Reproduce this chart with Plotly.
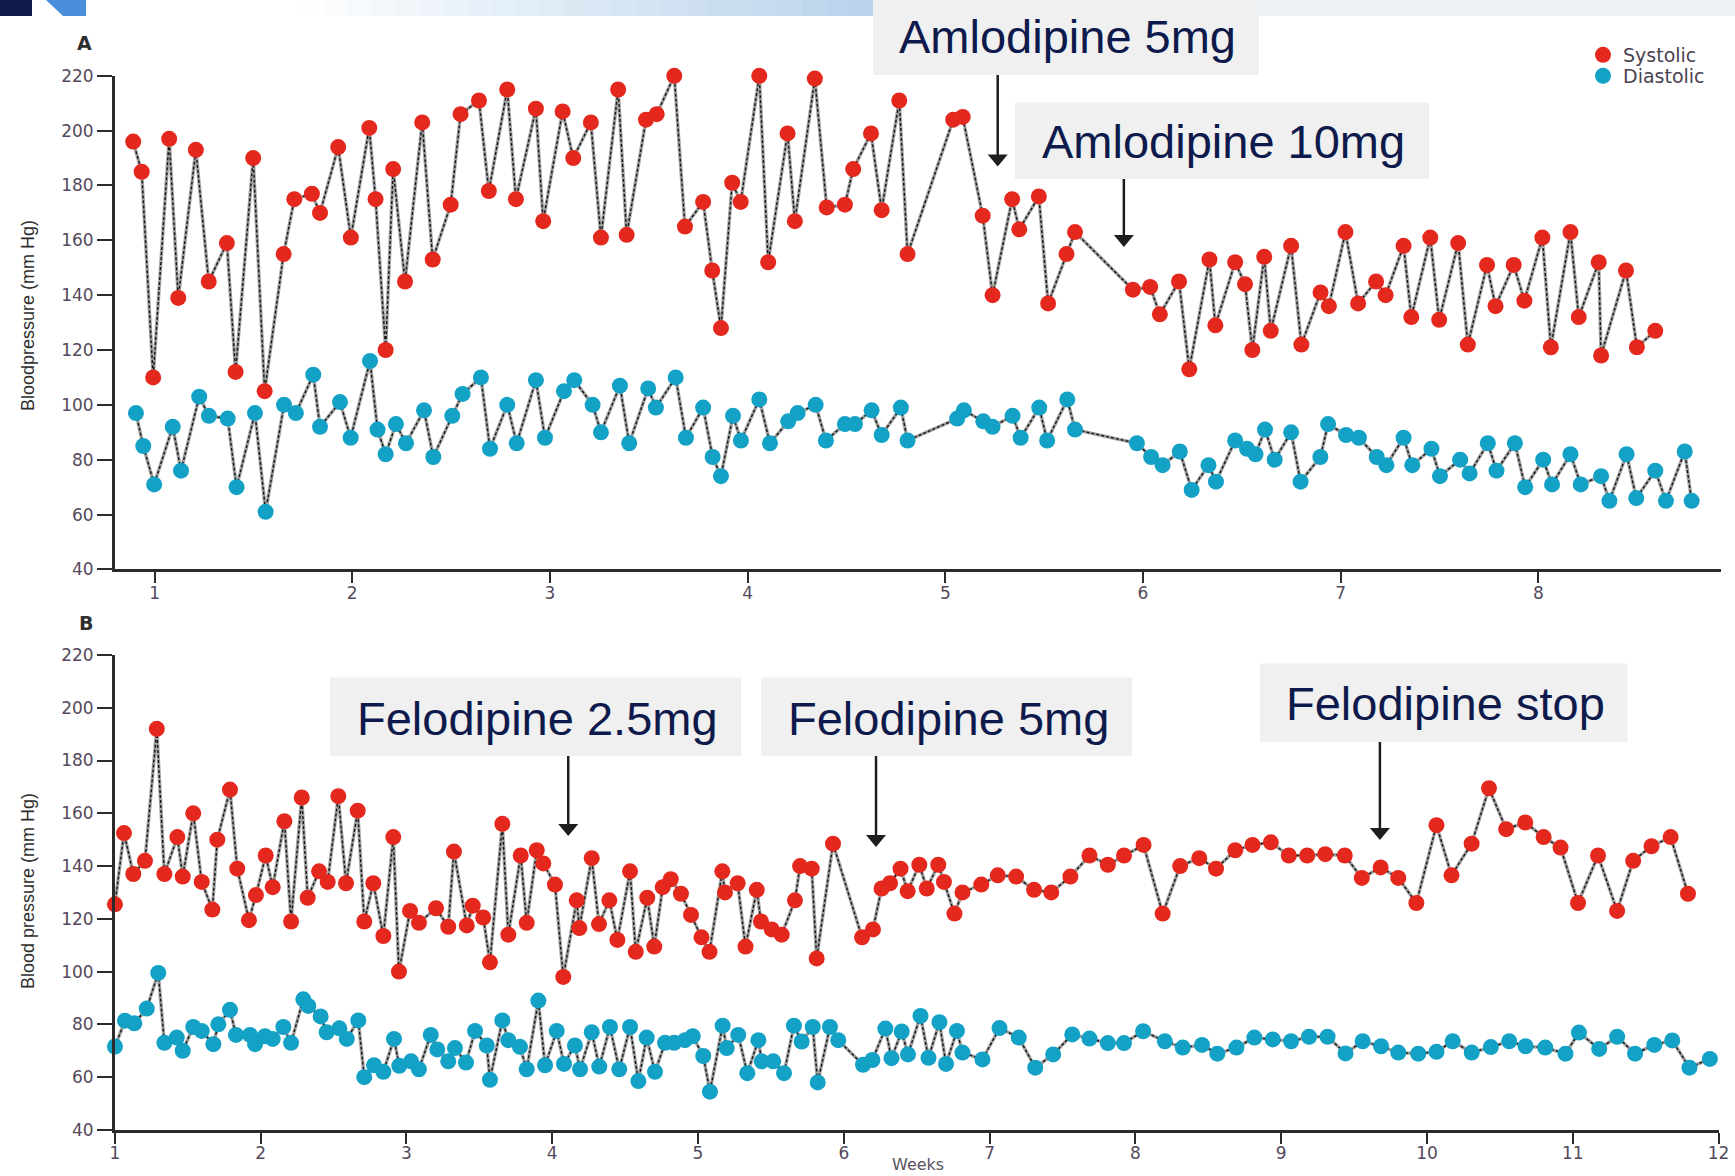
import plotly.graph_objects as go

# ---------------- data: home blood pressure, weeks of follow-up ----------------
# Panel A (amlodipine)
a_sys_week = [0.892, 0.935, 0.993, 1.074, 1.120, 1.209, 1.274, 1.366, 1.410, 1.499,
              1.557, 1.653, 1.707, 1.796, 1.837, 1.929, 1.993, 2.086, 2.118, 2.169,
              2.207, 2.267, 2.354, 2.407, 2.498, 2.548, 2.641, 2.691, 2.784, 2.828,
              2.929, 2.966, 3.064, 3.118, 3.207, 3.258, 3.345, 3.388, 3.486, 3.540,
              3.629, 3.683, 3.775, 3.821, 3.865, 3.922, 3.965, 4.059, 4.104, 4.202,
              4.239, 4.340, 4.400, 4.492, 4.534, 4.624, 4.678, 4.767, 4.809, 5.040,
              5.088, 5.189, 5.239, 5.338, 5.374, 5.473, 5.520, 5.613, 5.656, 5.949,
              6.036, 6.085, 6.182, 6.234, 6.336, 6.366, 6.466, 6.516, 6.553, 6.613,
              6.646, 6.749, 6.801, 6.898, 6.940, 7.024, 7.088, 7.179, 7.227, 7.318,
              7.357, 7.453, 7.498, 7.594, 7.643, 7.740, 7.783, 7.875, 7.929, 8.020,
              8.063, 8.162, 8.204, 8.305, 8.317, 8.443, 8.498, 8.591]
a_sys = [196, 185, 110, 197, 139, 193, 145, 159, 112, 190,
         105, 155, 175, 177, 170, 194, 161, 201, 175, 120,
         186, 145, 203, 153, 173, 206, 211, 178, 215, 175,
         208, 167, 207, 190, 203, 161, 215, 162, 204, 206,
         220, 165, 174, 149, 128, 181, 174, 220, 152, 199,
         167, 219, 172, 173, 186, 199, 171, 211, 155, 204,
         205, 169, 140, 175, 164, 176, 137, 155, 163, 142,
         143, 133, 145, 113, 153, 129, 152, 144, 120, 154,
         127, 158, 122, 141, 136, 163, 137, 145, 140, 158,
         132, 161, 131, 159, 122, 151, 136, 151, 138, 161,
         121, 163, 132, 152, 118, 149, 121, 127]

a_dia_week = [0.906, 0.943, 0.998, 1.092, 1.134, 1.226, 1.275, 1.370, 1.415, 1.508,
              1.562, 1.655, 1.715, 1.803, 1.837, 1.938, 1.992, 2.090, 2.128, 2.169,
              2.221, 2.272, 2.363, 2.410, 2.506, 2.558, 2.651, 2.697, 2.784, 2.832,
              2.929, 2.975, 3.071, 3.123, 3.216, 3.258, 3.354, 3.401, 3.497, 3.536,
              3.636, 3.688, 3.775, 3.823, 3.865, 3.926, 3.966, 4.059, 4.113, 4.205,
              4.253, 4.344, 4.396, 4.492, 4.543, 4.627, 4.678, 4.775, 4.809, 5.060,
              5.094, 5.192, 5.239, 5.340, 5.381, 5.475, 5.515, 5.617, 5.656, 5.969,
              6.041, 6.099, 6.186, 6.246, 6.331, 6.369, 6.466, 6.526, 6.569, 6.617,
              6.666, 6.749, 6.797, 6.897, 6.936, 7.027, 7.092, 7.182, 7.231, 7.318,
              7.362, 7.459, 7.502, 7.604, 7.652, 7.744, 7.788, 7.881, 7.933, 8.024,
              8.069, 8.162, 8.214, 8.317, 8.359, 8.446, 8.495, 8.591, 8.645, 8.740,
              8.775]
a_dia = [97, 85, 71, 92, 76, 103, 96, 95, 70, 97,
         61, 100, 97, 111, 92, 101, 88, 116, 91, 82,
         93, 86, 98, 81, 96, 104, 110, 84, 100, 86,
         109, 88, 105, 109, 100, 90, 107, 86, 106, 99,
         110, 88, 99, 81, 74, 96, 87, 102, 86, 94,
         97, 100, 87, 93, 93, 98, 89, 99, 87, 95,
         98, 94, 92, 96, 88, 99, 87, 102, 91, 86,
         81, 78, 83, 69, 78, 72, 87, 84, 82, 91,
         80, 90, 72, 81, 93, 89, 88, 81, 78, 88,
         78, 84, 74, 80, 75, 86, 76, 86, 70, 80,
         71, 82, 71, 74, 65, 82, 66, 76, 65, 83,
         65]

# Panel B (felodipine)
b_sys_week = [1.001, 1.063, 1.127, 1.207, 1.288, 1.340, 1.429, 1.466, 1.538, 1.596,
              1.669, 1.703, 1.790, 1.840, 1.920, 1.968, 2.035, 2.083, 2.163, 2.209,
              2.282, 2.323, 2.401, 2.460, 2.533, 2.586, 2.666, 2.711, 2.773, 2.842,
              2.910, 2.949, 3.025, 3.086, 3.203, 3.287, 3.326, 3.414, 3.455, 3.527,
              3.573, 3.658, 3.699, 3.784, 3.825, 3.894, 3.939, 4.019, 4.076, 4.168,
              4.186, 4.271, 4.321, 4.392, 4.447, 4.534, 4.573, 4.652, 4.700, 4.758,
              4.813, 4.883, 4.952, 5.024, 5.079, 5.167, 5.185, 5.272, 5.326, 5.403,
              5.432, 5.506, 5.574, 5.665, 5.700, 5.780, 5.814, 5.926, 6.125, 6.200,
              6.259, 6.317, 6.389, 6.438, 6.518, 6.569, 6.648, 6.687, 6.759, 6.814,
              6.943, 7.056, 7.182, 7.305, 7.423, 7.554, 7.685, 7.811, 7.922, 8.056,
              8.187, 8.307, 8.438, 8.553, 8.685, 8.803, 8.929, 9.052, 9.178, 9.302,
              9.436, 9.553, 9.682, 9.803, 9.927, 10.065, 10.168, 10.306, 10.425, 10.543,
              10.674, 10.800, 10.916, 11.036, 11.173, 11.304, 11.414, 11.540, 11.671, 11.790]
b_sys = [125.5, 152.5, 137, 142, 192, 137, 151, 136, 160, 134,
         123.5, 150, 169, 139, 119.5, 129, 144, 132, 157, 119,
         166, 128, 138, 134, 166.5, 133.5, 161, 119, 133.5, 113.5,
         151, 100, 123, 118.5, 124, 117, 145.5, 117.5, 125, 120.5,
         103.5, 156, 114, 144, 118.5, 146, 141, 133, 98, 127,
         116.5, 143, 118, 127, 112, 138, 107.5, 128, 109.5, 132,
         135, 129.5, 121.5, 113, 107.5, 138, 130, 133.5, 109.5, 131,
         119, 116, 114, 127, 140, 139, 105, 148.5, 113, 116,
         131.5, 133.5, 139, 130.5, 140.5, 131.5, 140.5, 134, 122, 130,
         133, 136.5, 136, 131, 130, 136, 144, 140.5, 144, 148,
         122, 140, 143, 139, 146, 148, 149, 144, 144, 144.5,
         144, 135.5, 139.5, 135.5, 126, 155.5, 136.5, 148.5, 169.5, 154,
         156.5, 151, 147, 126, 144, 123, 142, 147.5, 151, 129.5]

b_dia_week = [1.001, 1.070, 1.134, 1.219, 1.298, 1.340, 1.425, 1.466, 1.538, 1.596,
              1.676, 1.710, 1.790, 1.831, 1.927, 1.962, 2.030, 2.083, 2.156, 2.209,
              2.293, 2.327, 2.412, 2.453, 2.540, 2.591, 2.670, 2.711, 2.778, 2.842,
              2.915, 2.951, 3.032, 3.086, 3.167, 3.212, 3.287, 3.333, 3.409, 3.471,
              3.551, 3.573, 3.658, 3.699, 3.779, 3.825, 3.905, 3.951, 4.031, 4.081,
              4.156, 4.191, 4.271, 4.323, 4.396, 4.460, 4.534, 4.591, 4.648, 4.705,
              4.774, 4.836, 4.911, 4.964, 5.036, 5.082, 5.169, 5.197, 5.276, 5.338,
              5.414, 5.437, 5.516, 5.590, 5.658, 5.711, 5.787, 5.821, 5.905, 5.962,
              6.132, 6.196, 6.285, 6.327, 6.397, 6.440, 6.526, 6.581, 6.656, 6.701,
              6.776, 6.814, 6.951, 7.068, 7.200, 7.313, 7.436, 7.567, 7.685, 7.811,
              7.922, 8.053, 8.202, 8.325, 8.457, 8.562, 8.693, 8.816, 8.942, 9.068,
              9.191, 9.318, 9.441, 9.559, 9.685, 9.803, 9.940, 10.065, 10.176, 10.307,
              10.438, 10.564, 10.676, 10.811, 10.950, 11.042, 11.181, 11.304, 11.427, 11.559,
              11.682, 11.800, 11.940]
b_dia = [71.6, 81.4, 80.4, 86, 99.5, 73, 75, 70, 79, 77.5,
         72.5, 80, 85.5, 76, 76, 72.5, 75.5, 74.5, 79, 73,
         89.5, 87, 83, 77, 78.5, 74.5, 81.5, 60, 64.5, 62,
         74.5, 64.3, 66, 63, 76, 70.5, 66, 71, 65.5, 77.5,
         72, 59, 81.5, 74, 71.5, 63, 89, 64.5, 77.5, 65,
         72, 63, 77, 64, 79, 63, 79, 58.5, 75, 62,
         73, 73, 74, 75.5, 68, 54.5, 79.5, 71, 76, 61.5,
         74, 66, 66, 61.5, 79.5, 73.5, 79, 58, 79, 74,
         64.7, 66.5, 78.4, 67.2, 77.3, 68.6, 83.2, 67.3, 80.8, 65,
         77.5, 69.3, 66.7, 78.6, 75, 63.6, 68.6, 76.2, 74.6, 72.9,
         72.9, 77.4, 73.6, 71.2, 72.2, 68.9, 71.2, 75, 74.3, 73.6,
         75.3, 75.3, 69, 73.6, 71.7, 69.3, 68.9, 69.6, 73.6, 69.3,
         71.4, 73.6, 71.7, 71.2, 68.9, 76.9, 70.7, 75.3, 68.9, 72.2,
         73.9, 63.6, 66.9]

y_ticks = [40, 60, 80, 100, 120, 140, 160, 180, 200, 220]
a_week_ticks = [1, 2, 3, 4, 5, 6, 7, 8]
b_week_ticks = [1, 2, 3, 4, 5, 6, 7, 8, 9, 10, 11, 12]

# treatment changes (week at which each arrow points)
a_events = [("Amlodipine 5mg", 5.265), ("Amlodipine 10mg", 5.903)]
b_events = [("Felodipine 2.5mg", 4.110), ("Felodipine 5mg", 6.221), ("Felodipine stop", 9.677)]

# ---------------- page geometry ----------------
W, H = 1735, 1176
A_XRANGE = [0.799, 8.921]
B_XRANGE = [1.0, 12.0]
A_PX = (114.8, 1720.5)      # left/right of panel A plot area
B_PX = (114.8, 1718.6)
A_PY = (75.8, 569.4)        # top/bottom of panel A plot area
B_PY = (655.0, 1129.9)


def px(x):
    return x / W


def py(y):
    return 1 - y / H


def week_px(w, rng, span):
    return span[0] + (w - rng[0]) / (rng[1] - rng[0]) * (span[1] - span[0])


RED = "#e5281d"
BLUE = "#13a1c6"
TICK_FONT = dict(family="DejaVu Sans", size=17, color="#54495c")
AXIS_COLOR = "#2b2b2b"
NAVY = "#0e1a4c"
LEGEND_FONT = dict(family="DejaVu Sans", size=19, color="#4a4250")

fig = go.Figure()


def add_series(xs, ys, color, name, xa, ya, legend_id):
    # grey connecting line with a dark dashed core, then the dots on top
    fig.add_trace(go.Scatter(x=xs, y=ys, mode="lines", xaxis=xa, yaxis=ya,
                             line=dict(color="#a3a3a3", width=3.4),
                             showlegend=False, hoverinfo="skip"))
    fig.add_trace(go.Scatter(x=xs, y=ys, mode="lines", xaxis=xa, yaxis=ya,
                             line=dict(color="#161616", width=1.4, dash="3px,2px"),
                             showlegend=False, hoverinfo="skip"))
    fig.add_trace(go.Scatter(x=xs, y=ys, mode="markers", xaxis=xa, yaxis=ya,
                             name=name, showlegend=legend_id is not None,
                             legend=legend_id or "legend", cliponaxis=False,
                             marker=dict(color=color, size=16, line=dict(width=0))))


add_series(a_sys_week, a_sys, RED, "Systolic", "x", "y", "legend")
add_series(a_dia_week, a_dia, BLUE, "Diastolic", "x", "y", "legend2")
add_series(b_sys_week, b_sys, RED, "Systolic", "x2", "y2", None)
add_series(b_dia_week, b_dia, BLUE, "Diastolic", "x2", "y2", None)

axis_common = dict(showline=True, linewidth=2.5, linecolor=AXIS_COLOR, ticks="outside",
                   tickwidth=2, tickcolor=AXIS_COLOR, showgrid=False, zeroline=False,
                   tickfont=TICK_FONT, automargin=False, fixedrange=True)

fig.update_layout(
    width=W, height=H,
    margin=dict(l=0, r=0, t=0, b=0),
    paper_bgcolor="white", plot_bgcolor="white",
    showlegend=True,
    legend=dict(x=px(1583), y=py(36), xanchor="left", yanchor="top",
                bgcolor="rgba(0,0,0,0)", font=LEGEND_FONT),
    legend2=dict(x=px(1583), y=py(57), xanchor="left", yanchor="top",
                 bgcolor="rgba(0,0,0,0)", font=LEGEND_FONT),
    xaxis=dict(domain=[px(A_PX[0]), px(A_PX[1])], range=A_XRANGE, anchor="y",
               tickvals=a_week_ticks, ticklen=11, ticklabelstandoff=-5, **axis_common),
    yaxis=dict(domain=[py(A_PY[1]), py(A_PY[0])], range=[40, 220], anchor="x",
               tickvals=y_ticks, ticklen=15, **axis_common),
    xaxis2=dict(domain=[px(B_PX[0]), px(B_PX[1])], range=B_XRANGE, anchor="y2",
                tickvals=b_week_ticks, ticklen=11, ticklabelstandoff=-5, **axis_common),
    yaxis2=dict(domain=[py(B_PY[1]), py(B_PY[0])], range=[40, 220], anchor="x2",
                tickvals=y_ticks, ticklen=15, **axis_common),
)

shapes = []
annotations = []

# slide header strip
shapes.append(dict(type="rect", xref="paper", yref="paper", x0=px(0), x1=px(32),
                   y0=py(16), y1=py(0), fillcolor="#0f1b4a", line=dict(width=0)))
shapes.append(dict(type="path", xref="paper", yref="paper",
                   path=f"M {px(46)} {py(0)} L {px(86)} {py(0)} L {px(86)} {py(16)} L {px(63)} {py(16)} Z",
                   fillcolor="#4a8fdb", line=dict(width=0)))
n_steps = 24
x_start, x_end = 300, 873
for i in range(n_steps):
    t = (i + 0.5) / n_steps
    r = int(255 + (184 - 255) * t)
    g = int(255 + (211 - 255) * t)
    b = int(255 + (236 - 255) * t)
    xa = x_start + (x_end - x_start) * i / n_steps
    xb = x_start + (x_end - x_start) * (i + 1) / n_steps + 0.5
    shapes.append(dict(type="rect", xref="paper", yref="paper", x0=px(xa), x1=px(xb),
                       y0=py(16), y1=py(0), fillcolor=f"rgb({r},{g},{b})", line=dict(width=0)))
shapes.append(dict(type="rect", xref="paper", yref="paper", x0=px(1259), x1=px(W),
                   y0=py(16), y1=py(0), fillcolor="#eef1f4", line=dict(width=0)))

# treatment label boxes: (x0, x1, y0, y1, text centre x, text centre y, arrow top, arrow tip)
a_boxes = [(873, 1259, 0, 75, 1067, 37, 75, 166.5),
           (1015, 1429, 102.6, 179, 1223, 141, 179, 247)]
b_boxes = [(330, 741, 677.6, 756, 537, 718, 756, 836),
           (761, 1132, 677.6, 756, 948, 718, 756, 847),
           (1260, 1627.5, 663.4, 742, 1445, 703, 742, 840)]


def add_label(text, week, box, rng, span):
    x0, x1, y0, y1, tx, ty, a_top, a_tip = box
    shapes.append(dict(type="rect", xref="paper", yref="paper", x0=px(x0), x1=px(x1),
                       y0=py(y1), y1=py(y0), fillcolor="#f0f0f0", line=dict(width=0),
                       layer="above"))
    annotations.append(dict(text=text, xref="paper", yref="paper", x=px(tx), y=py(ty),
                            xanchor="center", yanchor="middle", showarrow=False,
                            font=dict(family="Liberation Sans, Arial", size=47, color=NAVY)))
    ax = week_px(week, rng, span)
    head = 12
    shapes.append(dict(type="line", xref="paper", yref="paper", x0=px(ax), x1=px(ax),
                       y0=py(a_top), y1=py(a_tip - head + 1),
                       line=dict(color="#1e1e1e", width=2.5)))
    shapes.append(dict(type="path", xref="paper", yref="paper",
                       path=(f"M {px(ax - 10)} {py(a_tip - head)} L {px(ax + 10)} {py(a_tip - head)} "
                             f"L {px(ax)} {py(a_tip)} Z"),
                       fillcolor="#1e1e1e", line=dict(width=0)))


for (text, week), box in zip(a_events, a_boxes):
    add_label(text, week, box, A_XRANGE, A_PX)
for (text, week), box in zip(b_events, b_boxes):
    add_label(text, week, box, B_XRANGE, B_PX)

# panel letters and axis titles
for letter, (lx, ly) in {"A": (84, 42.5), "B": (86, 623)}.items():
    annotations.append(dict(text=f"<b>{letter}</b>", xref="paper", yref="paper",
                            x=px(lx), y=py(ly), xanchor="center", yanchor="middle",
                            showarrow=False,
                            font=dict(family="DejaVu Sans", size=19, color="#2e2e2e")))

for title, cy in [("Bloodpressure (mm Hg)", 316), ("Blood pressure (mm Hg)", 891)]:
    annotations.append(dict(text=title, xref="paper", yref="paper", x=px(28), y=py(cy),
                            xanchor="center", yanchor="middle", textangle=-90,
                            showarrow=False,
                            font=dict(family="Liberation Sans Narrow, Liberation Sans, Arial",
                                      size=18, color="#2e2e2e")))

annotations.append(dict(text="Weeks", xref="paper", yref="paper", x=px(918), y=py(1164),
                        xanchor="center", yanchor="middle", showarrow=False,
                        font=dict(family="DejaVu Sans", size=16, color="#5a5162")))

fig.update_layout(shapes=shapes, annotations=annotations)
fig.write_html("out.html")
